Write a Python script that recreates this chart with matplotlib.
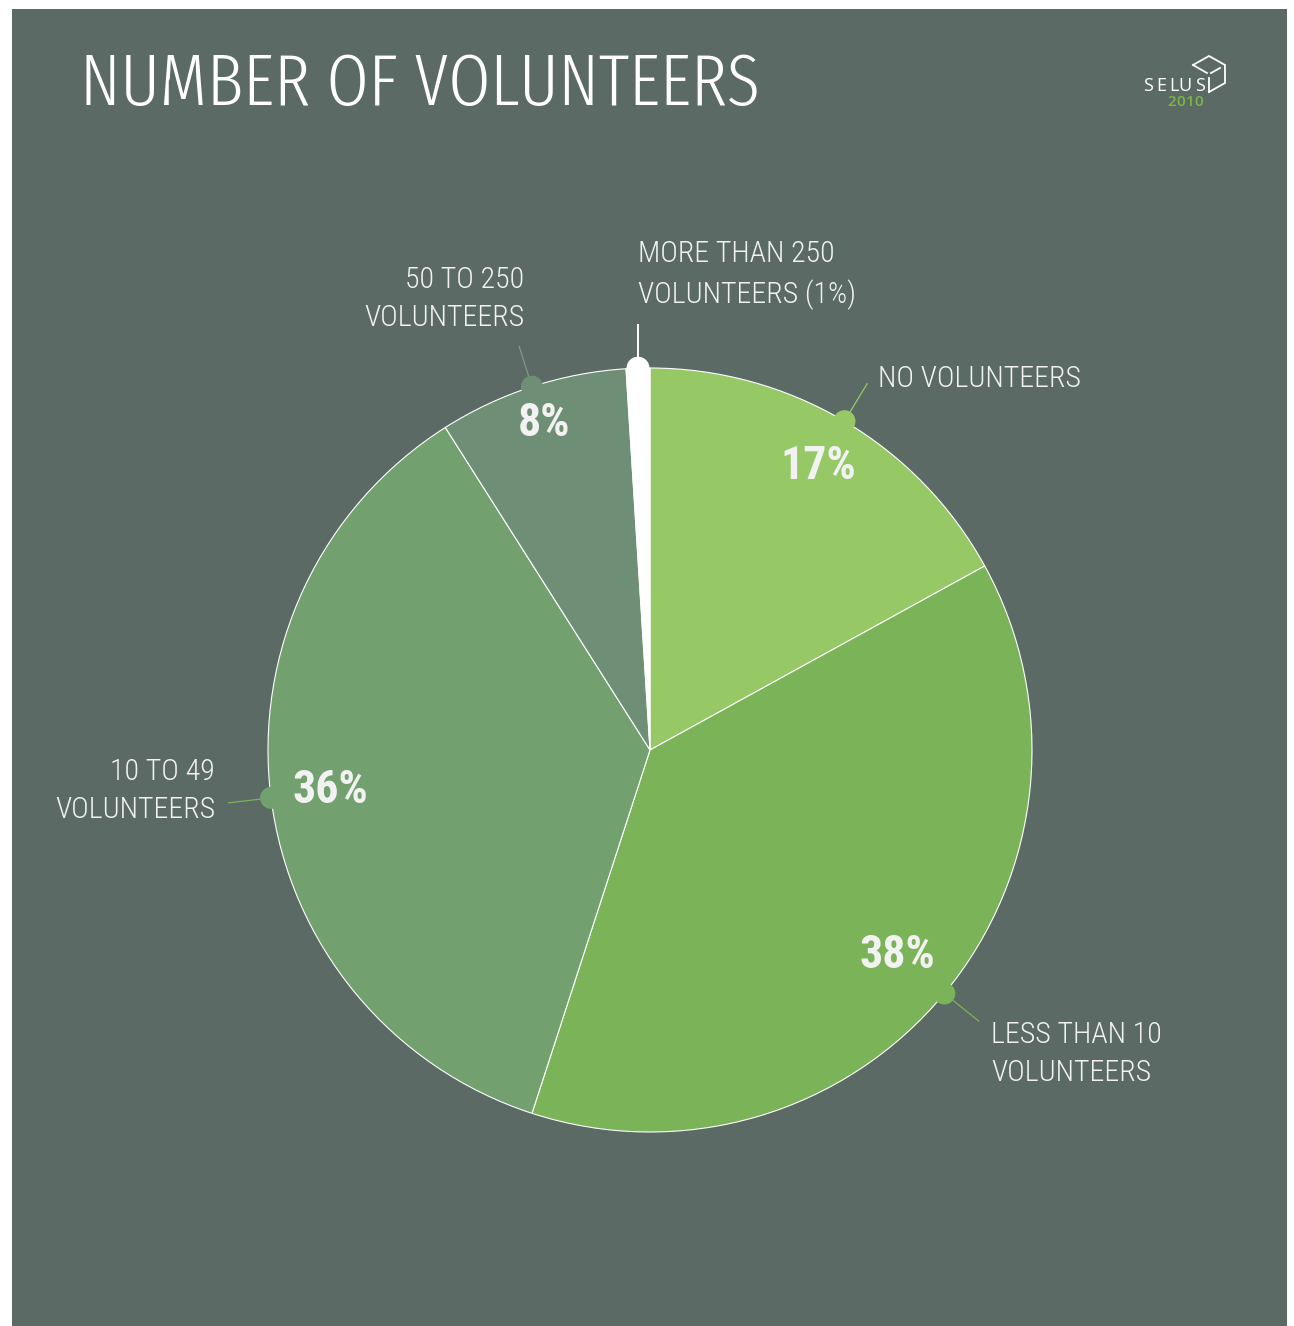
import matplotlib
matplotlib.use("Agg")
import matplotlib.pyplot as plt
import numpy as np
from matplotlib.patches import Rectangle, Circle

# Share of organisations by number of volunteers
categories = ["NO VOLUNTEERS", "LESS THAN 10\nVOLUNTEERS", "10 TO 49\nVOLUNTEERS",
              "50 TO 250\nVOLUNTEERS", "MORE THAN 250\nVOLUNTEERS (1%)"]
shares = [17, 38, 36, 8, 1]
pct_labels = ["17%", "38%", "36%", "8%", ""]

W, H = 1294, 1326
BG = "#5b6a65"
slice_colors = ["#96c965", "#7bb358", "#72a06f", "#6f8e76", "#ffffff"]
leader_colors = ["#96c965", "#7bb358", "#7bb358", "#7f9c86", "#ffffff"]
TEXT = "#f2f2f2"
LIGHT = "Roboto Condensed"


def py(y):
    # pixel row (from top) -> axes y
    return H - y


fig = plt.figure(figsize=(W / 100, H / 100), dpi=100, facecolor="white")
ax = fig.add_axes([0, 0, 1, 1])
ax.add_patch(Rectangle((12, 0), 1275, py(9), facecolor=BG, edgecolor="none", zorder=0))

cx, cy, R = 650, py(750), 382
wedges, _ = ax.pie(shares, colors=slice_colors, startangle=90, counterclock=False,
                   center=(cx, cy), radius=R,
                   wedgeprops=dict(edgecolor="white", linewidth=0.8, zorder=2))

ax.set_xlim(0, W)
ax.set_ylim(0, H)
ax.set_aspect("auto")
ax.axis("off")

# label layout: leader offset from edge dot (px), text anchor (px), alignment, pct radius
leader_off = [(23, -38), (35, 28), (-43, 5), (-13, -41), (0, -44)]
label_pos = [(878, 379), (991, 1054), (215, 791), (524, 299), (638, 275)]
label_ha = ["left", "left", "right", "right", "left"]
pct_frac = [0.865, 0.84, 0.843, 0.9, 0]

for i, w in enumerate(wedges):
    mid = np.deg2rad((w.theta1 + w.theta2) / 2)
    dx, dy = R * np.cos(mid), R * np.sin(mid)
    x0, y0 = cx + dx, cy + dy
    ox, oy = leader_off[i]
    lw = 1.4 if i == 4 else 0.9
    ax.plot([x0, x0 + ox], [y0, y0 - oy], color=leader_colors[i], lw=lw, zorder=3,
            solid_capstyle="butt")
    ax.add_patch(Circle((x0, y0), 11.5 if i == 4 else 11, facecolor=slice_colors[i],
                        edgecolor="none", zorder=4))
    lx, ly = label_pos[i]
    ax.text(lx, py(ly), categories[i], ha=label_ha[i], va="center", color=TEXT,
            fontsize=21.5, family=LIGHT, weight=300, linespacing=1.45, zorder=5)
    if pct_labels[i]:
        f = pct_frac[i]
        ax.text(cx + f * dx, cy + f * dy, pct_labels[i], ha="center", va="center",
                color=TEXT, fontsize=33, family=LIGHT, weight="bold", zorder=5)

# title
ax.text(80, py(86), "NUMBER OF VOLUNTEERS", ha="left", va="center", color="white",
        fontsize=53, family="Fira Sans Extra Condensed", weight=300)

# logo: spaced wordmark + cube outline
for ch, x in zip("SELUS", [1148, 1161, 1173.5, 1185, 1200]):
    ax.text(x, py(86), ch, ha="center", va="center", color="white",
            fontsize=13, family="Open Sans", zorder=5)
for ch, x in zip("2010", [1172, 1181, 1190, 1199]):
    ax.text(x, py(102.5), ch, ha="center", va="center", color="#7ab648",
            fontsize=11, family="Open Sans", weight="semibold", zorder=5)
cube = [
    [(1193, 65), (1209, 56), (1225, 65), (1225, 83), (1209, 92)],
    [(1193, 65), (1207, 73)],
    [(1211, 73), (1220, 68)],
    [(1209, 78), (1209, 92)],
]
for seg in cube:
    xs = [p[0] for p in seg]
    ys = [py(p[1]) for p in seg]
    ax.plot(xs, ys, color="white", lw=1.3, zorder=5, solid_joinstyle="miter")

fig.savefig("out.png", dpi=100, facecolor="white")
